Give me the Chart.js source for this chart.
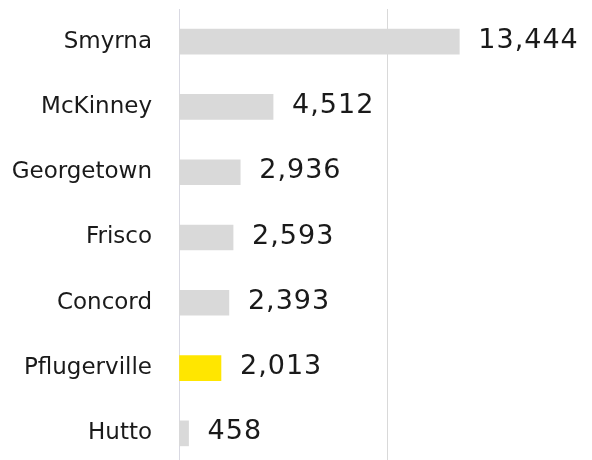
<!DOCTYPE html>
<html>
<head>
<meta charset="utf-8">
<script src="https://cdn.jsdelivr.net/npm/chart.js@4/dist/chart.umd.min.js"></script>
<style>
html, body { margin: 0; padding: 0; overflow: hidden; background: #ffffff; }
#wrap { width: 596px; height: 466px; position: relative; }
</style>
</head>
<body>
<div id="wrap"><canvas id="c"></canvas></div>
<script>
const categories = ["Smyrna", "McKinney", "Georgetown", "Frisco", "Concord", "Pflugerville", "Hutto"];
const values = [13444, 4512, 2936, 2593, 2393, 2013, 458];
const highlight = "Pflugerville";
const xTicks = [0, 10000, 20000];

const barColors = categories.map(c => c === highlight ? "#ffe600" : "#d9d9d9");

const valueLabels = {
  id: "valueLabels",
  afterDatasetsDraw(chart) {
    const ctx = chart.ctx;
    const meta = chart.getDatasetMeta(0);
    ctx.save();
    ctx.font = "27px 'DejaVu Sans'";
    try { ctx.letterSpacing = "1px"; } catch (e) {}
    ctx.fillStyle = "#1a1a1a";
    ctx.textAlign = "left";
    ctx.textBaseline = "middle";
    meta.data.forEach((bar, i) => {
      ctx.fillText(values[i].toLocaleString("en-US"), bar.x + 19, bar.y - 1);
    });
    ctx.restore();
  }
};

new Chart(document.getElementById("c"), {
  type: "bar",
  data: {
    labels: categories,
    datasets: [{
      data: values,
      backgroundColor: barColors,
      borderWidth: 0,
      barThickness: 25
    }]
  },
  options: {
    indexAxis: "y",
    responsive: true,
    maintainAspectRatio: false,
    animation: false,
    layout: { padding: { top: 9, right: 0, bottom: 0, left: 0 } },
    plugins: { legend: { display: false }, tooltip: { enabled: false } },
    scales: {
      x: {
        min: 0,
        max: 20000,
        afterBuildTicks(scale) { scale.ticks = xTicks.map(v => ({ value: v })); },
        ticks: { display: false },
        grid: { color: "#d9d9d9", lineWidth: 1, drawTicks: false },
        border: { display: false },
        afterFit(scale) { scale.height = 0; scale.paddingLeft = 0; scale.paddingRight = 0; }
      },
      y: {
        grid: { display: false, drawTicks: false },
        border: { display: true, color: "#d9d9e2", width: 1 },
        ticks: {
          color: "#1a1a1a",
          font: { family: "'DejaVu Sans'", size: 23 },
          padding: 27
        },
        afterFit(scale) { scale.width = 179; scale.paddingTop = 0; scale.paddingBottom = 0; }
      }
    }
  },
  plugins: [valueLabels]
});
</script>
</body>
</html>
